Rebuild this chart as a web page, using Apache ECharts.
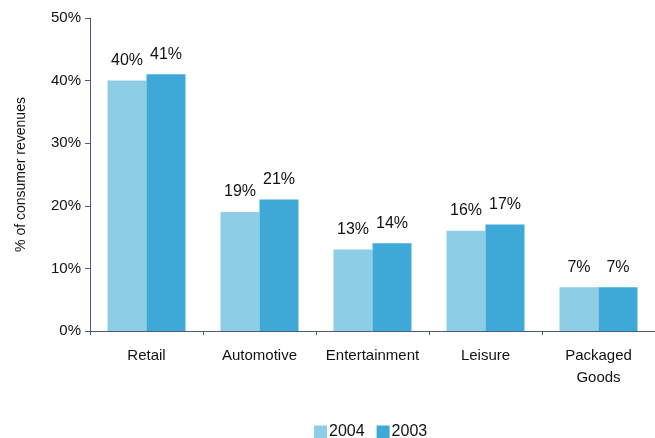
<!DOCTYPE html>
<html>
<head>
<meta charset="utf-8">
<script src="https://cdn.jsdelivr.net/npm/echarts@6/dist/echarts.min.js"></script>
<style>
  html, body { margin: 0; padding: 0; background: #fff; }
  #chart { width: 655px; height: 438px; }
</style>
</head>
<body>
<div id="chart"></div>
<script>
// Share of consumer revenues by sector
const categories = ['Retail', 'Automotive', 'Entertainment', 'Leisure', 'Packaged\nGoods'];
const values2004 = [40, 19, 13, 16, 7];
const values2003 = [41, 21, 14, 17, 7];
const yTicks = [0, 10, 20, 30, 40, 50];

const FONT = '"Liberation Sans", Arial, sans-serif';
const AXIS_COLOR = '#4a5a85';

const chart = echarts.init(document.getElementById('chart'), null, { renderer: 'canvas' });

const labelStyle = {
  show: true,
  position: 'top',
  distance: 12,
  formatter: p => p.value + '%',
  color: '#111',
  fontSize: 16,
  fontFamily: FONT
};

chart.setOption({
  animation: false,
  grid: { left: 90, right: 0, top: 18, bottom: 107, containLabel: false },
  legend: {
    data: ['2004', '2003'],
    left: 309,
    top: 419,
    padding: 5,
    itemWidth: 13,
    itemHeight: 13,
    itemGap: 12,
    icon: 'rect',
    textStyle: { fontSize: 16, color: '#111', fontFamily: FONT, padding: [0, 0, 0, -3] }
  },
  xAxis: {
    type: 'category',
    data: categories,
    axisLine: { lineStyle: { color: AXIS_COLOR, width: 1 } },
    axisTick: { show: true, length: 4, lineStyle: { color: AXIS_COLOR } },
    axisLabel: { interval: 0, color: '#111', fontSize: 15, fontFamily: FONT, margin: 14, lineHeight: 22 }
  },
  yAxis: {
    type: 'value',
    min: yTicks[0],
    max: yTicks[yTicks.length - 1],
    interval: 10,
    name: '% of consumer revenues',
    nameLocation: 'middle',
    nameGap: 62,
    nameRotate: 90,
    nameTextStyle: { color: '#111', fontSize: 14, fontFamily: FONT },
    axisLine: { show: true, lineStyle: { color: AXIS_COLOR, width: 1 } },
    axisTick: { show: true, length: 5, inside: false, lineStyle: { color: AXIS_COLOR } },
    splitLine: { show: false },
    axisLabel: {
      color: '#111', fontSize: 15, fontFamily: FONT, margin: 9,
      formatter: v => v + '%'
    }
  },
  series: [
    {
      name: '2004',
      type: 'bar',
      data: values2004,
      barGap: '0%',
      barCategoryGap: '31%',
      itemStyle: { color: '#8ecde6' },
      label: labelStyle
    },
    {
      name: '2003',
      type: 'bar',
      data: values2003,
      itemStyle: { color: '#3ea8d7' },
      label: labelStyle
    }
  ]
});
</script>
</body>
</html>
